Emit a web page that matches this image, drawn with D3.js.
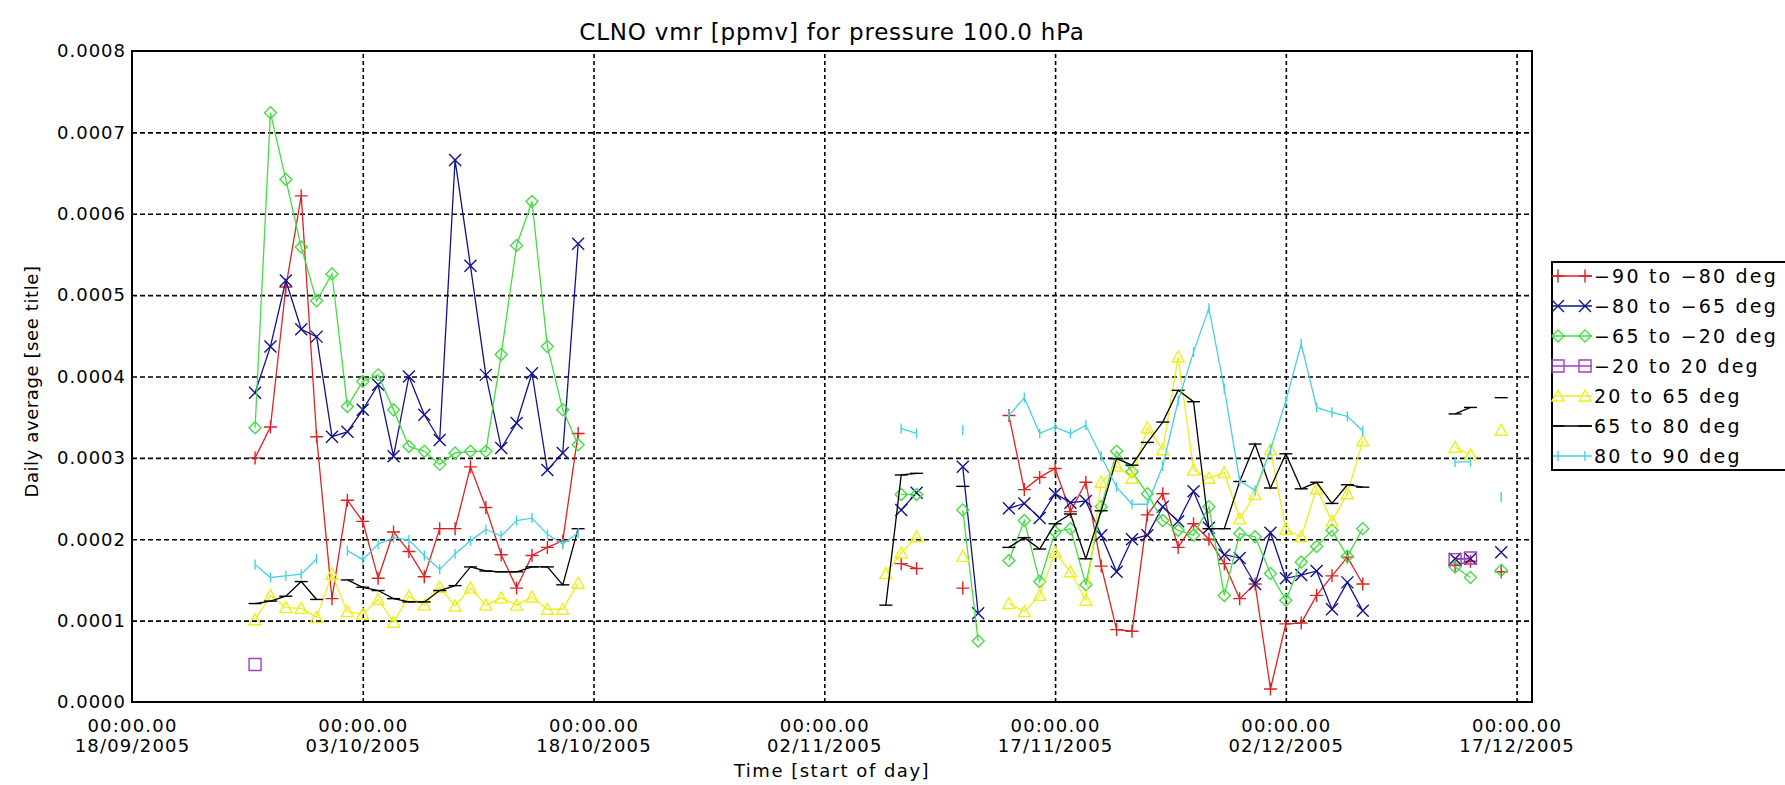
<!DOCTYPE html>
<html><head><meta charset="utf-8">
<script src="https://cdn.jsdelivr.net/npm/d3@7"></script>
<style>
body{margin:0;background:#fff;}
svg{display:block;font-family:"DejaVu Sans",sans-serif;}
</style></head><body>
<svg id="c" width="1785" height="785"></svg>
<script>
// ---------------- DATA ----------------
const dates = [
"2005-09-26","2005-09-27","2005-09-28","2005-09-29","2005-09-30","2005-10-01","2005-10-02","2005-10-03",
"2005-10-04","2005-10-05","2005-10-06","2005-10-07","2005-10-08","2005-10-09","2005-10-10","2005-10-11",
"2005-10-12","2005-10-13","2005-10-14","2005-10-15","2005-10-16","2005-10-17",
"2005-11-06","2005-11-07","2005-11-08","2005-11-11","2005-11-12",
"2005-11-14","2005-11-15","2005-11-16","2005-11-17","2005-11-18","2005-11-19","2005-11-20","2005-11-21",
"2005-11-22","2005-11-23","2005-11-24","2005-11-25","2005-11-26","2005-11-27","2005-11-28","2005-11-29",
"2005-11-30","2005-12-01","2005-12-02","2005-12-03","2005-12-04","2005-12-05","2005-12-06","2005-12-07",
"2005-12-13","2005-12-14","2005-12-16"];

const lat90to80S = [
0.000300,0.000338,0.000510,0.000622,0.000326,0.000127,0.000248,0.000222,
0.000152,0.000209,0.000185,0.000154,0.000213,0.000213,0.000289,0.000239,
0.000181,0.000140,0.000180,0.000190,0.000198,0.000330,
null,0.000170,0.000164,0.000140,null,
0.000352,0.000261,0.000276,0.000287,0.000234,0.000270,0.000167,0.000089,
0.000087,0.000230,0.000256,0.000190,0.000219,0.000200,0.000170,0.000127,
0.000145,0.000016,0.000096,0.000097,0.000131,0.000155,0.000178,0.000145,
0.000168,0.000173,0.000160];

const lat80to65S = [
0.000380,0.000437,0.000518,0.000458,0.000449,0.000326,0.000332,0.000359,
0.000390,0.000302,0.000400,0.000353,0.000322,0.000666,0.000536,0.000402,
0.000312,0.000343,0.000404,0.000285,0.000306,0.000563,
null,0.000236,0.000257,0.000289,0.000109,
0.000238,0.000244,0.000226,0.000256,0.000245,0.000247,0.000205,0.000160,
0.000200,0.000205,0.000240,0.000222,0.000259,0.000214,0.000181,0.000177,
0.000145,0.000208,0.000152,0.000156,0.000161,0.000114,0.000147,0.000112,
0.000176,0.000176,0.000184];

const lat65to20S = [
0.000337,0.000724,0.000642,0.000559,0.000493,0.000526,0.000363,0.000394,
0.000402,0.000359,0.000314,0.000308,0.000292,0.000306,0.000308,0.000308,
0.000427,0.000561,0.000615,0.000437,0.000359,0.000316,
null,0.000255,0.000255,0.000236,0.000075,
0.000174,0.000223,0.000148,0.000209,0.000213,0.000144,0.000240,0.000308,
0.000283,0.000256,0.000223,0.000211,0.000205,0.000240,0.000131,0.000207,
0.000203,0.000158,0.000125,0.000172,0.000191,0.000211,0.000179,0.000213,
0.000166,0.000153,0.000162];

const lat20Sto20N = [
0.000046,null,null,null,null,null,null,null,
null,null,null,null,null,null,null,null,
null,null,null,null,null,null,
null,null,null,null,null,
null,null,null,null,null,null,null,null,
null,null,null,null,null,null,null,null,
null,null,null,null,null,null,null,null,
0.000175,0.000177,null];

const lat20to65N = [
0.000101,0.000131,0.000116,0.000115,0.000104,0.000157,0.000111,0.000108,
0.000126,0.000098,0.000130,0.000119,0.000141,0.000118,0.000140,0.000119,
0.000128,0.000119,0.000129,0.000114,0.000114,0.000146,
0.000158,0.000183,0.000203,0.000179,null,
0.000121,0.000111,0.000131,0.000184,0.000160,0.000125,0.000270,0.000290,
0.000275,0.000337,0.000310,0.000424,0.000285,0.000275,0.000282,0.000225,
0.000255,0.000310,0.000212,0.000203,0.000262,0.000222,0.000256,0.000321,
0.000313,0.000304,0.000334];

const lat65to80N = [
0.000121,0.000124,0.000130,0.000148,0.000126,null,0.000150,0.000141,
0.000137,0.000127,0.000123,0.000123,0.000137,0.000143,0.000166,0.000161,
0.000160,0.000160,0.000166,0.000166,0.000144,0.000213,
0.000119,0.000279,0.000281,0.000265,null,
0.000190,0.000202,0.000188,0.000219,0.000231,0.000176,0.000235,0.000299,
0.000291,0.000319,0.000344,0.000383,0.000369,0.000213,0.000213,0.000271,
0.000317,0.000263,0.000305,0.000262,0.000270,0.000244,0.000267,0.000264,
0.000354,0.000362,0.000374];

const lat80to90N = [
0.000169,0.000153,0.000155,0.000157,0.000176,null,0.000186,0.000175,
0.000194,0.000202,0.000199,0.000180,0.000163,0.000182,0.000198,0.000212,
0.000204,0.000223,0.000226,0.000206,0.000194,0.000208,
null,0.000336,0.000330,0.000334,null,
0.000352,0.000374,0.000330,0.000338,0.000330,0.000340,0.000302,0.000264,
0.000243,0.000243,0.000290,0.000370,0.000430,0.000484,0.000385,0.000272,
0.000260,0.000310,0.000370,0.000440,0.000362,0.000356,0.000351,0.000333,
0.000295,0.000295,0.000252];

const legendLabels = ["\u221290 to \u221280 deg","\u221280 to \u221265 deg","\u221265 to \u221220 deg",
  "\u221220 to 20 deg","20 to 65 deg","65 to 80 deg","80 to 90 deg"];
const xTickDates = ["2005-09-18","2005-10-03","2005-10-18","2005-11-02","2005-11-17","2005-12-02","2005-12-17"];
const yTickValues = [0,0.0001,0.0002,0.0003,0.0004,0.0005,0.0006,0.0007,0.0008];
const titleText = "CLNO vmr [ppmv] for pressure 100.0 hPa";
const xTitle = "Time [start of day]";
const yTitle = "Daily average [see title]";

// ---------------- STYLE ----------------
const colors = ["#dd2222","#12128e","#44dd44","#a040b8","#eeee1a","#000000","#44d2e2"];
const markers = ["plus","cross","diamond","square","triangle","hbar","vbar"];
const seriesValues = [lat90to80S,lat80to65S,lat65to20S,lat20Sto20N,lat20to65N,lat65to80N,lat80to90N];

const parse = d3.utcParse("%Y-%m-%d");
const L = 132, R = 1532, T = 51, B = 702;
const x = d3.scaleUtc().domain([parse("2005-09-18"), parse("2005-12-18")]).range([L, R]);
const y = d3.scaleLinear().domain([0, 0.0008]).range([B, T]);

const svg = d3.select("#c");

function markerPath(t){
  switch(t){
    case "plus": return "M-6.5,0H6.5M0,-6.5V6.5";
    case "cross": return "M-6,-6L6,6M-6,6L6,-6";
    case "diamond": return "M0,-6L6,0L0,6L-6,0Z";
    case "square": return "M-6,-6H6V6H-6Z";
    case "triangle": return "M0,-6L6,5H-6Z";
    case "hbar": return "M-6.5,0H6.5";
    case "vbar": return "M0,-5V5";
  }
}

// grid lines
const gx = svg.append("g").attr("transform",`translate(0,${B})`)
  .call(d3.axisBottom(x).tickValues(xTickDates.slice(1,7).map(parse)).tickSize(-(B-T)).tickFormat(""));
gx.select(".domain").remove();
gx.selectAll("line").attr("stroke","#000").attr("stroke-width",1.6).attr("stroke-dasharray","4,3");

const gy = svg.append("g").attr("transform",`translate(${L},0)`)
  .call(d3.axisLeft(y).tickValues(yTickValues.slice(1,8)).tickSize(-(R-L)).tickFormat(""));
gy.select(".domain").remove();
gy.selectAll("line").attr("stroke","#000").attr("stroke-width",1.6).attr("stroke-dasharray","5,3");

// data
const line = d3.line().x(p => x(p.date)).y(p => y(p.v));
seriesValues.forEach((vals, si) => {
  const pts = dates.map((d,i) => ({date: parse(d), v: vals[i]}));
  const segs = []; let cur = [];
  pts.forEach(p => {
    if (p.v == null) { if (cur.length) segs.push(cur); cur = []; return; }
    if (cur.length && (p.date - cur[cur.length-1].date) > 1.5*86400000) { segs.push(cur); cur = []; }
    cur.push(p);
  });
  if (cur.length) segs.push(cur);
  const g = svg.append("g");
  g.selectAll("path.l").data(segs.filter(s => s.length > 1)).join("path").attr("class","l")
    .attr("d", line).attr("fill","none").attr("stroke", colors[si]).attr("stroke-width",1.3);
  g.selectAll("path.m").data(pts.filter(p => p.v != null)).join("path").attr("class","m")
    .attr("transform", p => `translate(${x(p.date)},${y(p.v)})`)
    .attr("d", markerPath(markers[si])).attr("fill","none")
    .attr("stroke", colors[si]).attr("stroke-width",1.4);
});

// frame
svg.append("rect").attr("x",L).attr("y",T).attr("width",R-L).attr("height",B-T)
  .attr("fill","none").attr("stroke","#000").attr("stroke-width",2);

// y axis labels
const ay = svg.append("g").attr("transform",`translate(${L},0)`)
  .call(d3.axisLeft(y).tickValues(yTickValues).tickSize(0).tickPadding(6).tickFormat(d3.format(".4f")));
ay.select(".domain").remove();
ay.selectAll("text").attr("font-family","DejaVu Sans").attr("font-size",18).attr("letter-spacing",1).attr("fill","#000");

// x axis labels (two lines)
const ax = svg.append("g").attr("transform",`translate(0,${B})`)
  .call(d3.axisBottom(x).tickValues(xTickDates.map(parse)).tickSize(0).tickFormat(""));
ax.select(".domain").remove();
const fmtD = d3.utcFormat("%d/%m/%Y");
ax.selectAll(".tick text").each(function(d){
  const t = d3.select(this).attr("y",null).attr("dy",null)
    .attr("font-family","DejaVu Sans").attr("font-size",18).attr("letter-spacing",1.2).attr("fill","#000");
  t.append("tspan").attr("x",0).attr("y",30).text("00:00.00");
  t.append("tspan").attr("x",0).attr("y",50).text(fmtD(d));
});

// titles
svg.append("text").attr("x",(L+R)/2).attr("y",40).attr("text-anchor","middle")
  .attr("font-size",23).attr("letter-spacing",0.8).text(titleText);
svg.append("text").attr("x",(L+R)/2).attr("y",777).attr("text-anchor","middle")
  .attr("font-size",18).attr("letter-spacing",1.5).text(xTitle);
svg.append("text").attr("transform",`translate(38,${(T+B)/2 + 5}) rotate(-90)`).attr("text-anchor","middle")
  .attr("font-size",18).attr("letter-spacing",0.6).text(yTitle);

// legend
const lg = svg.append("g");
lg.append("path").attr("d","M1785,262H1552V470H1785").attr("fill","none").attr("stroke","#000").attr("stroke-width",2);
legendLabels.forEach((lab,i) => {
  const cy = 276 + 30*i;
  lg.append("line").attr("x1",1553).attr("x2",1592).attr("y1",cy).attr("y2",cy)
    .attr("stroke",colors[i]).attr("stroke-width",1.3);
  [1558,1585].forEach(mx => lg.append("path").attr("transform",`translate(${mx},${cy})`)
    .attr("d",markerPath(markers[i])).attr("fill","none").attr("stroke",colors[i]).attr("stroke-width",1.4));
  lg.append("text").attr("x",1594).attr("y",cy+7).attr("font-size",19).attr("letter-spacing",2.2).text(lab);
});
</script>
</body></html>
